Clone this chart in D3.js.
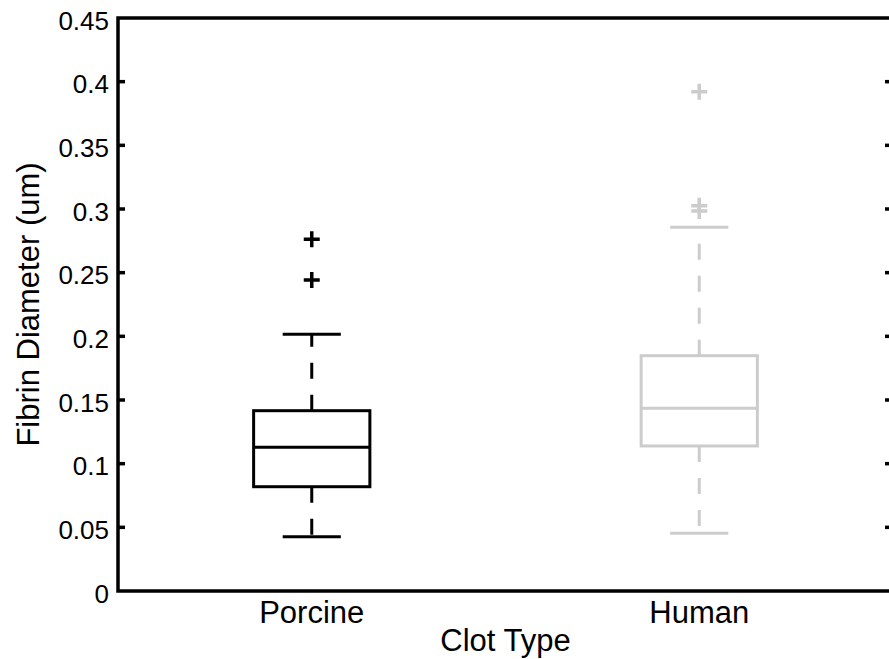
<!doctype html>
<html lang="en">
<head>
    <meta charset="UTF-8">
    <script src="https://d3js.org/d3.v7.min.js"></script>
    <title>Fibrin Diameter</title>
    <style>
        body { margin: 0; background: #fff; }
        text { font-family: "Liberation Sans", Arial, Helvetica, sans-serif; fill: #000; }
    </style>
</head>
<body>
<div id="chart"></div>
<script>

    //box data
    const categories = ["Porcine", "Human"];
    const colors = ["#000000", "#cccccc"];
    const whiskerLow = [0.0427, 0.0453];
    const q1 = [0.0819, 0.1139];
    const median = [0.1128, 0.1435];
    const q3 = [0.1416, 0.1848];
    const whiskerHigh = [0.2016, 0.2856];
    const outliers = [[0.2762, 0.2442], [0.3921, 0.3026, 0.2985]];
    const yTicks = [0, 0.05, 0.1, 0.15, 0.2, 0.25, 0.3, 0.35, 0.4, 0.45];

    const width = 889, height = 659;
    const plotLeft = 118, plotRight = 893, plotTop = 18, plotBottom = 591;

    let svg = d3.select("#chart").append("svg")
        .attr("width", width)
        .attr("height", height);

    let x = d3.scaleLinear().domain([0.5, 2.5]).range([plotLeft, plotRight]);
    let y = d3.scaleLinear().domain([0, 0.45]).range([plotBottom, plotTop]);

    const boxW = 0.3, capW = 0.15;

    //boxes
    let boxes = svg.selectAll(".box")
        .data(categories)
        .enter()
        .append("g")
        .attr("class", "box")
        .attr("stroke", (d, i) => colors[i])
        .attr("stroke-width", 3)
        .attr("fill", "none");

    boxes.each(function (d, i) {
        let g = d3.select(this);
        let cx = x(i + 1);

        //whiskers, dashed from box edge
        g.append("line")
            .attr("x1", cx).attr("x2", cx)
            .attr("y1", y(q3[i])).attr("y2", y(whiskerHigh[i]))
            .attr("stroke-dasharray", "16,16");
        g.append("line")
            .attr("x1", cx).attr("x2", cx)
            .attr("y1", y(q1[i])).attr("y2", y(whiskerLow[i]))
            .attr("stroke-dasharray", "16,16");

        //caps
        [whiskerLow[i], whiskerHigh[i]].forEach(function (v) {
            g.append("line")
                .attr("x1", x(i + 1 - capW / 2)).attr("x2", x(i + 1 + capW / 2))
                .attr("y1", y(v)).attr("y2", y(v));
        });

        //box and median
        g.append("rect")
            .attr("x", x(i + 1 - boxW / 2))
            .attr("y", y(q3[i]))
            .attr("width", x(i + 1 + boxW / 2) - x(i + 1 - boxW / 2))
            .attr("height", y(q1[i]) - y(q3[i]));
        g.append("line")
            .attr("x1", x(i + 1 - boxW / 2)).attr("x2", x(i + 1 + boxW / 2))
            .attr("y1", y(median[i])).attr("y2", y(median[i]));

        //outliers as + marks
        g.selectAll(".out")
            .data(outliers[i])
            .enter()
            .append("path")
            .attr("class", "out")
            .attr("stroke-width", 3.5)
            .attr("d", v => "M" + (cx - 8) + "," + y(v) + "H" + (cx + 8) +
                "M" + cx + "," + (y(v) - 8) + "V" + (y(v) + 8));
    });

    //frame
    svg.append("path")
        .attr("d", "M" + plotLeft + "," + plotTop + "V" + plotBottom + "H" + plotRight + "V" + plotTop + "Z")
        .attr("fill", "none")
        .attr("stroke", "#000")
        .attr("stroke-width", 3.5);

    //y ticks, inward on both sides
    let yAxis = svg.append("g");
    yTicks.forEach(function (t) {
        if (t > 0 && t < 0.45) {
            yAxis.append("line")
                .attr("x1", plotLeft).attr("x2", plotLeft + 7)
                .attr("y1", y(t)).attr("y2", y(t))
                .attr("stroke", "#000").attr("stroke-width", 3.5);
            yAxis.append("line")
                .attr("x1", plotRight).attr("x2", plotRight - 8)
                .attr("y1", y(t)).attr("y2", y(t))
                .attr("stroke", "#000").attr("stroke-width", 3.5);
        }
        yAxis.append("text")
            .attr("x", plotLeft - 9)
            .attr("y", y(t))
            .attr("dy", "0.45em")
            .attr("text-anchor", "end")
            .attr("font-size", 26)
            .text(t === 0 ? "0" : d3.format("")(t));
    });

    //x tick labels
    svg.selectAll(".xlab")
        .data(categories)
        .enter()
        .append("text")
        .attr("class", "xlab")
        .attr("x", (d, i) => x(i + 1))
        .attr("y", 623)
        .attr("text-anchor", "middle")
        .attr("font-size", 31)
        .text(d => d);

    //axis titles
    svg.append("text")
        .attr("x", (plotLeft + plotRight) / 2)
        .attr("y", 651)
        .attr("text-anchor", "middle")
        .attr("font-size", 31)
        .text("Clot Type");

    svg.append("text")
        .attr("transform", "translate(39," + (plotTop + plotBottom) / 2 + ") rotate(-90)")
        .attr("text-anchor", "middle")
        .attr("font-size", 31)
        .text("Fibrin Diameter (um)");

</script>
</body>
</html>
